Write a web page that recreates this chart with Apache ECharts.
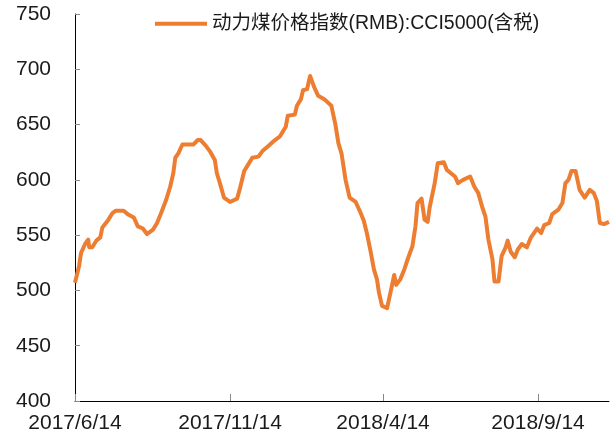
<!DOCTYPE html>
<html>
<head>
<meta charset="utf-8">
<script src="https://cdn.jsdelivr.net/npm/echarts@6/dist/echarts.min.js"></script>
<style>
  html, body { margin: 0; padding: 0; background: #fff; }
  #chart { width: 610px; height: 438px; }
</style>
</head>
<body>
<div id="chart"></div>
<script>
// axis runs day by day from the first to the last sample
const startDate = "2017/6/14";
const endDate = "2018/11/23";
const tickLabels = ["2017/6/14", "2017/11/14", "2018/4/14", "2018/9/14"];
const seriesName = "动力煤价格指数(RMB):CCI5000(含税)";

// values
const sampleDates = [
  "2017/6/14", "2017/6/18", "2017/6/20", "2017/6/24", "2017/6/27", "2017/6/28",
  "2017/7/1", "2017/7/5", "2017/7/9", "2017/7/11", "2017/7/17", "2017/7/21",
  "2017/7/24", "2017/8/1", "2017/8/5", "2017/8/11", "2017/8/15", "2017/8/20",
  "2017/8/24", "2017/8/30", "2017/9/3", "2017/9/7", "2017/9/12", "2017/9/16",
  "2017/9/19", "2017/9/21", "2017/9/24", "2017/9/28", "2017/10/9", "2017/10/13",
  "2017/10/16", "2017/10/21", "2017/10/25", "2017/10/30", "2017/11/1", "2017/11/4",
  "2017/11/8", "2017/11/14", "2017/11/21", "2017/11/24", "2017/11/28", "2017/12/2",
  "2017/12/6", "2017/12/12", "2017/12/16", "2017/12/21", "2017/12/27", "2018/1/2",
  "2018/1/8", "2018/1/10", "2018/1/17", "2018/1/19", "2018/1/23", "2018/1/25",
  "2018/1/29", "2018/2/1", "2018/2/5", "2018/2/9", "2018/2/15", "2018/2/22",
  "2018/2/26", "2018/3/1", "2018/3/4", "2018/3/8", "2018/3/12", "2018/3/18",
  "2018/3/22", "2018/3/26", "2018/3/29", "2018/4/2", "2018/4/5", "2018/4/8",
  "2018/4/10", "2018/4/13", "2018/4/18", "2018/4/22", "2018/4/25", "2018/4/27",
  "2018/5/1", "2018/5/5", "2018/5/9", "2018/5/13", "2018/5/16", "2018/5/18",
  "2018/5/22", "2018/5/25", "2018/5/28", "2018/5/30", "2018/6/4", "2018/6/7",
  "2018/6/13", "2018/6/16", "2018/6/20", "2018/6/24", "2018/6/27", "2018/7/2",
  "2018/7/9", "2018/7/13", "2018/7/17", "2018/7/21", "2018/7/24", "2018/7/27",
  "2018/7/31", "2018/8/2", "2018/8/6", "2018/8/9", "2018/8/13", "2018/8/15",
  "2018/8/18", "2018/8/22", "2018/8/25", "2018/8/29", "2018/9/3", "2018/9/7",
  "2018/9/13", "2018/9/17", "2018/9/20", "2018/9/25", "2018/9/28", "2018/10/4",
  "2018/10/8", "2018/10/11", "2018/10/14", "2018/10/17", "2018/10/21", "2018/10/25",
  "2018/10/30", "2018/11/4", "2018/11/8", "2018/11/11", "2018/11/14", "2018/11/18",
  "2018/11/23"
];
const priceValues = [
  507, 522, 534, 542, 546, 539,
  539, 545, 548, 557, 564, 570,
  572, 572, 569, 566, 558, 556,
  551, 555, 561, 570, 582, 594,
  606, 620, 624, 632, 632, 636,
  636, 631, 626, 618, 606, 597,
  584, 580, 583, 593, 608, 614,
  620, 621, 626, 630, 635, 639,
  648, 658, 659, 667, 673, 681,
  682, 694, 684, 676, 673, 667,
  650, 633, 624, 600, 584, 580,
  572, 563, 552, 534, 519, 510,
  498, 486, 484, 501, 514, 505,
  510, 519, 530, 540, 558, 579,
  583, 564, 562, 575, 597, 615,
  616, 609, 606, 603, 597, 600,
  603, 594, 588, 575, 567, 546,
  528, 508, 508, 531, 539, 545,
  535, 530, 537, 542, 539, 548,
  556, 552, 559, 561, 569, 573,
  579, 597, 600, 608, 608, 591,
  584, 591, 588, 581, 561, 560,
  562
];

function fmt(d) {
  return d.getUTCFullYear() + "/" + (d.getUTCMonth() + 1) + "/" + d.getUTCDate();
}
function parse(s) {
  const p = s.split("/").map(Number);
  return new Date(Date.UTC(p[0], p[1] - 1, p[2]));
}
const categories = [];
for (let t = parse(startDate); t <= parse(endDate); t = new Date(t.getTime() + 86400000)) {
  categories.push(fmt(t));
}

const showTick = (idx, val) => tickLabels.includes(val);
const font = "Liberation Sans, Arial, Noto Sans CJK SC, sans-serif";

const chart = echarts.init(document.getElementById("chart"));
chart.setOption({
  animation: false,
  textStyle: { fontFamily: font },
  legend: {
    left: 150,
    top: 9,
    icon: "rect",
    itemWidth: 52,
    itemHeight: 4,
    itemGap: 10,
    textStyle: { fontSize: 19.5, color: "#1a1a1a", fontFamily: font },
    data: [seriesName]
  },
  grid: { left: 75, right: 1, top: 14, bottom: 37 },
  xAxis: {
    type: "category",
    data: categories,
    boundaryGap: false,
    axisLine: { lineStyle: { color: "#000", width: 1 } },
    axisTick: { inside: true, length: 7, interval: showTick, lineStyle: { color: "#888" } },
    axisLabel: { interval: showTick, fontSize: 21, color: "#1a1a1a", margin: 12, fontFamily: font }
  },
  yAxis: {
    type: "value",
    min: 400,
    max: 750,
    interval: 50,
    axisLine: { show: true, lineStyle: { color: "#000", width: 1 } },
    axisTick: { show: true, inside: true, length: 5, lineStyle: { color: "#888" } },
    axisLabel: { fontSize: 21, color: "#1a1a1a", margin: 24, fontFamily: font },
    splitLine: { show: false }
  },
  series: [{
    name: seriesName,
    type: "line",
    symbol: "none",
    data: sampleDates.map((d, i) => [d, priceValues[i]]),
    lineStyle: { color: "#ED7D31", width: 4, join: "round" },
    itemStyle: { color: "#ED7D31" }
  }]
});
</script>
</body>
</html>
